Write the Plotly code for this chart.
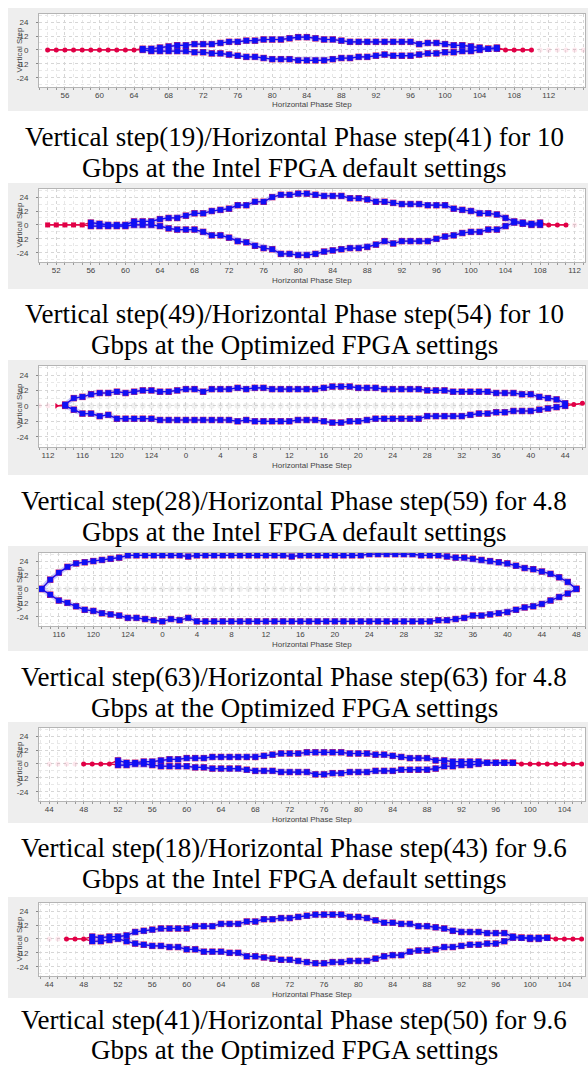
import plotly.graph_objects as go

# ======================= DATA =======================
y_tick_vals = [-24, -12, 0, 12, 24]
y_tick_text = ["-24", "-12", "0", "12", "24"]

# ---- Panel 1 : 10 Gbps, Intel default ----
p1_faded_x = [111, 112, 113, 114, 115, 116]
p1_faded_y = [0, 0, 0, 0, 0, 0]
p1_tail_left_x = [54, 55, 56, 57, 58, 59, 60, 61, 62, 63, 64]
p1_tail_left_y = [0, 0, 0, 0, 0, 0, 0, 0, 0, 0, 0]
p1_tail_right_x = [107, 108, 109, 110]
p1_tail_right_y = [0, 0, 0, 0]
p1_eye_x = [65, 66, 67, 68, 69, 70, 71, 72, 73, 74, 75, 76, 77, 78, 79, 80, 81, 82, 83, 84,
            85, 86, 87, 88, 89, 90, 91, 92, 93, 94, 95, 96, 97, 98, 99, 100, 101, 102, 103, 104,
            105, 106]
p1_upper = [1, 1, 2, 3, 4, 4, 5, 5, 5, 6, 7, 7, 8, 8, 9, 9, 9, 10, 11, 11,
            10, 9, 9, 8, 7, 7, 7, 7, 7, 7, 7, 7, 5, 6, 6, 5, 4, 4, 3, 2,
            1, 2]
p1_lower = [0, -1, -1, -1, -1, -1, -2, -2, -3, -3, -4, -5, -6, -6, -7, -8, -8, -8, -9, -9,
            -9, -9, -8, -7, -7, -6, -6, -5, -4, -5, -5, -5, -4, -3, -3, -2, -2, -1, -1, 0,
            1, 1]
p1_tick_vals = [56, 60, 64, 68, 72, 76, 80, 84, 88, 92, 96, 100, 104, 108, 112, 116]
p1_tick_text = ["56", "60", "64", "68", "72", "76", "80", "84", "88", "92", "96", "100", "104", "108", "112", "116"]
p1_caption = ["Vertical step(19)/Horizontal Phase step(41) for 10",
              "Gbps at the Intel FPGA default settings"]

# ---- Panel 2 : 10 Gbps, optimized ----
p2_faded_x = [112]
p2_faded_y = [0]
p2_tail_left_x = [51, 52, 53, 54, 55]
p2_tail_left_y = [0, 0, 0, 0, 0]
p2_tail_right_x = [109, 110, 111]
p2_tail_right_y = [0, 0, 0]
p2_eye_x = [56, 57, 58, 59, 60, 61, 62, 63, 64, 65, 66, 67, 68, 69, 70, 71, 72, 73, 74, 75,
            76, 77, 78, 79, 80, 81, 82, 83, 84, 85, 86, 87, 88, 89, 90, 91, 92, 93, 94, 95,
            96, 97, 98, 99, 100, 101, 102, 103, 104, 105, 106, 107, 108]
p2_upper = [2, 1, 0, 0, 0, 3, 3, 3, 5, 6, 6, 8, 10, 10, 12, 13, 14, 17, 17, 20,
            20, 24, 26, 26, 27, 27, 26, 25, 25, 25, 23, 23, 22, 20, 20, 19, 18, 18, 18, 17,
            17, 17, 14, 13, 12, 10, 10, 9, 6, 3, 2, 1, 2]
p2_lower = [-1, -1, -1, -1, -1, 0, 0, 0, -1, -3, -4, -4, -4, -6, -9, -9, -11, -14, -15, -18,
            -20, -21, -25, -25, -26, -26, -25, -23, -22, -21, -20, -20, -19, -17, -14, -16, -14, -14, -14, -14,
            -12, -10, -9, -7, -6, -6, -4, -4, -1, 2, 1, 0, 0]
p2_tick_vals = [52, 56, 60, 64, 68, 72, 76, 80, 84, 88, 92, 96, 100, 104, 108, 112]
p2_tick_text = ["52", "56", "60", "64", "68", "72", "76", "80", "84", "88", "92", "96", "100", "104", "108", "112"]
p2_caption = ["Vertical step(49)/Horizontal Phase step(54) for 10",
              "Gbps at the Optimized FPGA settings"]

# ---- Panel 3 : 4.8 Gbps, Intel default (phase wraps 127 -> 0) ----
p3_faded_x = [111, 112]
p3_faded_y = [0, 0]
p3_gray_x = [115, 116, 117, 118, 119, 120, 121, 122, 123, 124, 125, 126, 127, 128, 129, 130,
             131, 132, 133, 134, 135, 136, 137, 138, 139, 140, 141, 142, 143, 144, 145, 146,
             147, 148, 149, 150, 151, 152, 153, 154, 155, 156, 157, 158, 159, 160, 161, 162,
             163, 164, 165, 166, 167, 168, 169, 170, 171]
p3_tail_left_x = [113]
p3_tail_left_y = [0]
p3_tail_right_x = [173, 174]
p3_tail_right_y = [1, 2]
p3_eye_x = [114, 115, 116, 117, 118, 119, 120, 121, 122, 123, 124, 125, 126, 127, 128, 129,
            130, 131, 132, 133, 134, 135, 136, 137, 138, 139, 140, 141, 142, 143, 144, 145,
            146, 147, 148, 149, 150, 151, 152, 153, 154, 155, 156, 157, 158, 159, 160, 161,
            162, 163, 164, 165, 166, 167, 168, 169, 170, 171, 172]
p3_upper = [1, 6, 7, 9, 10, 10, 11, 10, 11, 12, 12, 11, 11, 12, 13, 13, 11, 13, 13, 13,
            14, 13, 14, 14, 13, 13, 13, 13, 13, 13, 14, 15, 15, 15, 14, 14, 14, 13, 13, 13,
            13, 13, 12, 12, 12, 11, 11, 11, 11, 11, 10, 10, 10, 9, 9, 7, 6, 5, 2]
p3_lower = [0, -3, -6, -6, -8, -7, -10, -10, -10, -10, -10, -11, -11, -11, -11, -11, -11, -11, -11, -11,
            -12, -11, -12, -12, -12, -12, -12, -11, -11, -11, -12, -13, -13, -12, -12, -11, -10, -10, -10, -10,
            -10, -10, -8, -8, -8, -8, -8, -7, -6, -6, -5, -5, -4, -4, -4, -3, -2, -1, 0]
p3_tick_vals = [112, 116, 120, 124, 128, 132, 136, 140, 144, 148, 152, 156, 160, 164, 168, 172]
p3_tick_text = ["112", "116", "120", "124", "0", "4", "8", "12", "16", "20", "24", "28", "32", "36", "40", "44"]
p3_caption = ["Vertical step(28)/Horizontal Phase step(59) for 4.8",
              "Gbps at the Intel FPGA default settings"]

# ---- Panel 4 : 4.8 Gbps, optimized (phase wraps 127 -> 0) ----
p4_faded_x = []
p4_faded_y = []
p4_gray_x = [115, 116, 117, 118, 119, 120, 121, 122, 123, 124, 125, 126, 127, 128, 129, 130,
             131, 132, 133, 134, 135, 136, 137, 138, 139, 140, 141, 142, 143, 144, 145, 146,
             147, 148, 149, 150, 151, 152, 153, 154, 155, 156, 157, 158, 159, 160, 161, 162,
             163, 164, 165, 166, 167, 168, 169, 170, 171, 172, 173, 174, 175]
p4_tail_left_x = []
p4_tail_left_y = []
p4_tail_right_x = []
p4_tail_right_y = []
p4_eye_x = [114, 115, 116, 117, 118, 119, 120, 121, 122, 123, 124, 125, 126, 127, 128, 129,
            130, 131, 132, 133, 134, 135, 136, 137, 138, 139, 140, 141, 142, 143, 144, 145,
            146, 147, 148, 149, 150, 151, 152, 153, 154, 155, 156, 157, 158, 159, 160, 161,
            162, 163, 164, 165, 166, 167, 168, 169, 170, 171, 172, 173, 174, 175, 176]
p4_upper = [0, 8, 14, 19, 22, 23, 24, 25, 26, 27, 29, 29, 29, 29, 29, 29, 29, 28, 29, 29,
            29, 29, 29, 29, 29, 29, 29, 29, 29, 28, 29, 29, 29, 29, 29, 29, 29, 29, 30, 30,
            30, 30, 30, 30, 29, 29, 29, 28, 27, 27, 26, 25, 24, 23, 22, 20, 18, 17, 15, 13,
            10, 6, 0]
p4_lower = [0, -5, -10, -12, -15, -18, -19, -21, -22, -23, -25, -25, -26, -27, -28, -26, -27, -25, -28, -28,
            -28, -28, -28, -28, -28, -28, -28, -28, -28, -28, -28, -28, -28, -28, -28, -28, -28, -28, -28, -28,
            -28, -28, -28, -28, -28, -28, -27, -27, -26, -25, -23, -23, -22, -21, -20, -18, -16, -15, -13, -10,
            -7, -4, 0]
p4_tick_vals = [112, 116, 120, 124, 128, 132, 136, 140, 144, 148, 152, 156, 160, 164, 168, 172, 176]
p4_tick_text = ["112", "116", "120", "124", "0", "4", "8", "12", "16", "20", "24", "28", "32", "36", "40", "44", "48"]
p4_caption = ["Vertical step(63)/Horizontal Phase step(63) for 4.8",
              "Gbps at the Optimized FPGA settings"]

# ---- Panel 5 : 9.6 Gbps, Intel default ----
p5_faded_x = [44, 45, 46, 47]
p5_faded_y = [0, 0, 0, 0]
p5_tail_left_x = [48, 49, 50, 51]
p5_tail_left_y = [0, 0, 0, 0]
p5_tail_right_x = [99, 100, 101, 102, 103, 104, 105, 106]
p5_tail_right_y = [0, 0, 0, 0, 0, 0, 0, 0]
p5_eye_x = [52, 53, 54, 55, 56, 57, 58, 59, 60, 61, 62, 63, 64, 65, 66, 67, 68, 69, 70, 71,
            72, 73, 74, 75, 76, 77, 78, 79, 80, 81, 82, 83, 84, 85, 86, 87, 88, 89, 90, 91,
            92, 93, 94, 95, 96, 97, 98]
p5_upper = [3, 1, 1, 2, 2, 3, 4, 4, 5, 5, 5, 6, 6, 6, 6, 6, 6, 7, 8, 9,
            9, 9, 10, 10, 10, 10, 10, 9, 9, 9, 8, 8, 7, 6, 5, 5, 5, 3, 3, 2,
            2, 2, 2, 1, 1, 1, 1]
p5_lower = [-1, -1, 0, 0, -1, -2, -2, -2, -2, -3, -3, -4, -4, -4, -4, -5, -6, -6, -6, -7,
            -7, -7, -7, -9, -9, -8, -8, -7, -7, -7, -6, -6, -6, -5, -5, -5, -5, -4, -2, -2,
            -1, -1, 0, 1, 1, 1, 1]
p5_tick_vals = [44, 48, 52, 56, 60, 64, 68, 72, 76, 80, 84, 88, 92, 96, 100, 104]
p5_tick_text = ["44", "48", "52", "56", "60", "64", "68", "72", "76", "80", "84", "88", "92", "96", "100", "104"]
p5_caption = ["Vertical step(18)/Horizontal Phase step(43) for 9.6",
              "Gbps at the Intel FPGA default settings"]

# ---- Panel 6 : 9.6 Gbps, optimized ----
p6_faded_x = [44, 45]
p6_faded_y = [0, 0]
p6_tail_left_x = [46, 47, 48]
p6_tail_left_y = [0, 0, 0]
p6_tail_right_x = [103, 104, 105, 106]
p6_tail_right_y = [0, 0, 0, 0]
p6_eye_x = [49, 50, 51, 52, 53, 54, 55, 56, 57, 58, 59, 60, 61, 62, 63, 64, 65, 66, 67, 68,
            69, 70, 71, 72, 73, 74, 75, 76, 77, 78, 79, 80, 81, 82, 83, 84, 85, 86, 87, 88,
            89, 90, 91, 92, 93, 94, 95, 96, 97, 98, 99, 100, 101, 102]
p6_upper = [2, 1, 2, 2, 3, 6, 7, 8, 9, 9, 9, 9, 11, 11, 11, 13, 13, 13, 15, 15,
            17, 17, 18, 18, 19, 20, 21, 21, 21, 21, 19, 19, 18, 16, 14, 14, 13, 13, 11, 11,
            10, 9, 7, 6, 6, 6, 5, 5, 5, 2, 1, 1, 1, 1]
p6_lower = [-2, -2, -1, 0, -2, -4, -5, -6, -6, -7, -7, -9, -9, -11, -11, -11, -12, -12, -15, -15,
            -16, -17, -18, -18, -19, -20, -21, -21, -20, -20, -19, -19, -19, -17, -15, -14, -14, -11, -10, -10,
            -9, -7, -7, -6, -5, -5, -4, -4, -2, 1, 1, 0, 0, 1]
p6_tick_vals = [44, 48, 52, 56, 60, 64, 68, 72, 76, 80, 84, 88, 92, 96, 100, 104]
p6_tick_text = ["44", "48", "52", "56", "60", "64", "68", "72", "76", "80", "84", "88", "92", "96", "100", "104"]
p6_caption = ["Vertical step(41)/Horizontal Phase step(50) for 9.6",
              "Gbps at the Optimized FPGA settings"]

# ======================= LAYOUT (pixel geometry) =======================
W, H = 588, 1068
PLOT_L, PLOT_R, PANEL_L = 39, 585, 8

panels = [
    dict(fx=p1_faded_x, fy=p1_faded_y, gx=[], ltx=p1_tail_left_x, lty=p1_tail_left_y,
         rtx=p1_tail_right_x, rty=p1_tail_right_y, ex=p1_eye_x, up=p1_upper, lo=p1_lower,
         tv=p1_tick_vals, tt=p1_tick_text, cap=p1_caption, xr=[53, 116.2],
         top=14, bot=87, gtop=8, gbot=111, capy=(137, 168), lsym="circle"),
    dict(fx=p2_faded_x, fy=p2_faded_y, gx=[], ltx=p2_tail_left_x, lty=p2_tail_left_y,
         rtx=p2_tail_right_x, rty=p2_tail_right_y, ex=p2_eye_x, up=p2_upper, lo=p2_lower,
         tv=p2_tick_vals, tt=p2_tick_text, cap=p2_caption, xr=[50, 113.2],
         top=189, bot=262, gtop=183, gbot=289, capy=(314, 345), lsym="square"),
    dict(fx=p3_faded_x, fy=p3_faded_y, gx=p3_gray_x, ltx=p3_tail_left_x, lty=p3_tail_left_y,
         rtx=p3_tail_right_x, rty=p3_tail_right_y, ex=p3_eye_x, up=p3_upper, lo=p3_lower,
         tv=p3_tick_vals, tt=p3_tick_text, cap=p3_caption, xr=[110.96, 174.3],
         top=366, bot=447, gtop=360, gbot=475, capy=(501, 532), lsym="triangle-right"),
    dict(fx=p4_faded_x, fy=p4_faded_y, gx=p4_gray_x, ltx=p4_tail_left_x, lty=p4_tail_left_y,
         rtx=p4_tail_right_x, rty=p4_tail_right_y, ex=p4_eye_x, up=p4_upper, lo=p4_lower,
         tv=p4_tick_vals, tt=p4_tick_text, cap=p4_caption, xr=[113.7, 177.0],
         top=553, bot=626, gtop=546, gbot=651, capy=(677, 708), lsym="circle"),
    dict(fx=p5_faded_x, fy=p5_faded_y, gx=[], ltx=p5_tail_left_x, lty=p5_tail_left_y,
         rtx=p5_tail_right_x, rty=p5_tail_right_y, ex=p5_eye_x, up=p5_upper, lo=p5_lower,
         tv=p5_tick_vals, tt=p5_tick_text, cap=p5_caption, xr=[42.8, 106.4],
         top=728, bot=801, gtop=722, gbot=823, capy=(848, 879), lsym="circle"),
    dict(fx=p6_faded_x, fy=p6_faded_y, gx=[], ltx=p6_tail_left_x, lty=p6_tail_left_y,
         rtx=p6_tail_right_x, rty=p6_tail_right_y, ex=p6_eye_x, up=p6_upper, lo=p6_lower,
         tv=p6_tick_vals, tt=p6_tick_text, cap=p6_caption, xr=[42.8, 106.4],
         top=903, bot=976, gtop=897, gbot=998, capy=(1020, 1050), lsym="circle"),
]

RED = "rgb(225,0,70)"
RED_SQ = "rgba(190,0,90,0.9)"
BLUE = "rgb(15,15,245)"
HALO = "rgba(130,130,255,0.42)"
FADED = "rgba(235,60,110,0.12)"
GRAYDOT = "rgba(170,170,170,0.18)"
TICKFONT = dict(family="Liberation Sans, Arial, sans-serif", size=8, color="#444")


def fx(p):
    return p / W


def fy(p):
    return 1 - p / H


fig = go.Figure()
shapes = []
annotations = []
layout_axes = {}

for i, P in enumerate(panels):
    n = i + 1
    xa, ya = f"x{n}", f"y{n}"
    if P["fx"]:
        fig.add_trace(go.Scatter(x=P["fx"], y=P["fy"], mode="markers", xaxis=xa, yaxis=ya,
                                 marker=dict(symbol="circle", size=5, color=FADED),
                                 showlegend=False, hoverinfo="skip"))
    if P["gx"]:
        fig.add_trace(go.Scatter(x=P["gx"], y=[0] * len(P["gx"]), mode="markers", xaxis=xa, yaxis=ya,
                                 marker=dict(symbol="circle", size=6, color=GRAYDOT),
                                 showlegend=False, hoverinfo="skip"))
    for vals in (P["up"], P["lo"]):
        fig.add_trace(go.Scatter(x=P["ltx"] + P["ex"] + P["rtx"], y=P["lty"] + vals + P["rty"],
                                 mode="lines", xaxis=xa, yaxis=ya,
                                 line=dict(color=RED, width=1.3),
                                 showlegend=False, hoverinfo="skip"))
    if P["ltx"]:
        fig.add_trace(go.Scatter(x=P["ltx"], y=P["lty"], mode="markers", xaxis=xa, yaxis=ya,
                                 marker=dict(symbol=P["lsym"], size=5, color=RED),
                                 showlegend=False, hoverinfo="skip"))
    if P["rtx"]:
        fig.add_trace(go.Scatter(x=P["rtx"], y=P["rty"], mode="markers", xaxis=xa, yaxis=ya,
                                 marker=dict(symbol="circle", size=5, color=RED),
                                 showlegend=False, hoverinfo="skip"))
    for vals in (P["up"], P["lo"]):
        fig.add_trace(go.Scatter(x=P["ex"], y=vals, mode="markers", xaxis=xa, yaxis=ya,
                                 marker=dict(symbol="square", size=6.5, color=RED_SQ),
                                 showlegend=False, hoverinfo="skip"))
    for vals in (P["up"], P["lo"]):
        fig.add_trace(go.Scatter(x=P["ex"], y=vals, mode="lines", xaxis=xa, yaxis=ya,
                                 line=dict(color=HALO, width=5),
                                 showlegend=False, hoverinfo="skip"))
    for vals in (P["up"], P["lo"]):
        fig.add_trace(go.Scatter(x=P["ex"], y=vals, mode="lines+markers", xaxis=xa, yaxis=ya,
                                 line=dict(color=BLUE, width=1.2),
                                 marker=dict(symbol="square", size=5.5, color=BLUE),
                                 showlegend=False, hoverinfo="skip"))

    key = "" if n == 1 else str(n)
    layout_axes[f"xaxis{key}"] = dict(
        domain=[fx(PLOT_L), fx(PLOT_R)], range=P["xr"], anchor=ya,
        tickmode="array", tickvals=P["tv"], ticktext=P["tt"],
        showgrid=True, gridcolor="#d6d6d6", griddash="dot", gridwidth=1,
        minor=dict(dtick=1, tick0=0, showgrid=True, gridcolor="#e8e8e8", griddash="dot",
                   ticks="outside", ticklen=2, tickcolor="#999"),
        ticks="", tickfont=TICKFONT,
        showline=True, linecolor="#b4b4b4", linewidth=1, mirror=True,
        zeroline=False, fixedrange=True)
    layout_axes[f"yaxis{key}"] = dict(
        domain=[fy(P["bot"]), fy(P["top"])], range=[-32, 31], anchor=xa,
        tickmode="array", tickvals=y_tick_vals, ticktext=y_tick_text,
        showgrid=True, gridcolor="#d6d6d6", griddash="dot", gridwidth=1,
        minor=dict(dtick=6, tick0=0, showgrid=True, gridcolor="#e8e8e8", griddash="dot"),
        ticks="outside", ticklen=2, tickcolor="#888", tickfont=TICKFONT, ticklabelstandoff=6,
        showline=True, linecolor="#b4b4b4", linewidth=1, mirror=True,
        zeroline=False, fixedrange=True)

    shapes.append(dict(type="rect", xref="paper", yref="paper", layer="below",
                       x0=fx(PANEL_L), x1=fx(W), y0=fy(P["gbot"]), y1=fy(P["gtop"]),
                       fillcolor="#eeeeee", line=dict(width=0)))
    shapes.append(dict(type="rect", xref="paper", yref="paper", layer="below",
                       x0=fx(PLOT_L), x1=fx(PLOT_R), y0=fy(P["bot"]), y1=fy(P["top"]),
                       fillcolor="white", line=dict(width=0)))
    annotations.append(dict(text="Horizontal Phase Step", xref="paper", yref="paper",
                            x=fx((PLOT_L + PLOT_R) / 2), y=fy(P["bot"] + 18),
                            xanchor="center", yanchor="middle", showarrow=False,
                            font=dict(family="Liberation Sans, Arial, sans-serif", size=8, color="#444")))
    annotations.append(dict(text="Vertical Step", xref="paper", yref="paper",
                            x=fx(19), y=fy((P["top"] + P["bot"]) / 2), textangle=-90,
                            xanchor="center", yanchor="middle", showarrow=False,
                            font=dict(family="Liberation Sans, Arial, sans-serif", size=8, color="#444")))
    for line_text, cy in zip(P["cap"], P["capy"]):
        annotations.append(dict(text=line_text, xref="paper", yref="paper",
                                x=fx(294), y=fy(cy), xanchor="center", yanchor="middle",
                                showarrow=False,
                                font=dict(family="Liberation Serif, Times New Roman, serif",
                                          size=27, color="black")))

fig.update_layout(
    width=W, height=H, margin=dict(l=0, r=0, t=0, b=0),
    paper_bgcolor="white", plot_bgcolor="rgba(0,0,0,0)",
    showlegend=False, shapes=shapes, annotations=annotations,
    **layout_axes)

fig.write_html("out.html", config={"displayModeBar": False},
               post_script="document.body.style.margin='0';document.body.style.padding='0';")
